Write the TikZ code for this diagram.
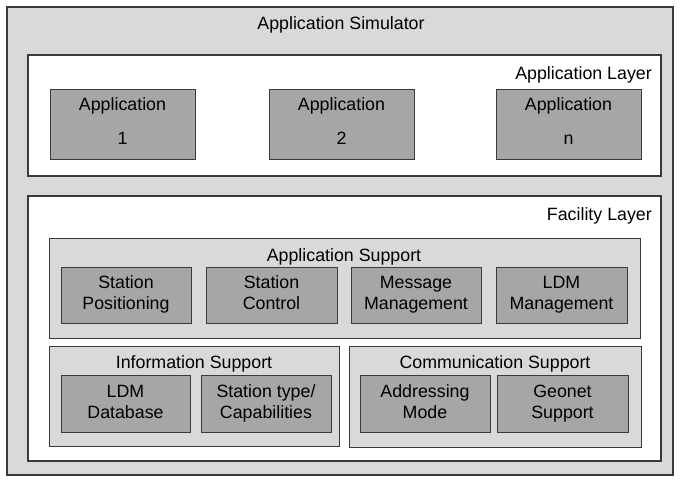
\documentclass[tikz,border=0pt]{standalone}
\usepackage{fontspec}
\setmainfont{Liberation Sans}
\definecolor{lightfill}{HTML}{D9D9D9}
\definecolor{itemfill}{HTML}{A6A6A6}
\definecolor{edge}{HTML}{3A3A3A}
\tikzset{
  frame/.style={draw=edge, line width=1.2pt, inner sep=0pt, outer sep=0pt},
  outerbox/.style={frame, fill=lightfill},
  layerbox/.style={frame, fill=white},
  supportbox/.style={frame, line width=1pt, fill=lightfill},
  itembox/.style={draw=edge, line width=1pt, fill=itemfill, align=center, inner sep=0pt,
    font=\fontsize{17.8}{21}\selectfont},
  lbl/.style={inner sep=0pt, font=\fontsize{17.8}{21}\selectfont},
}
\begin{document}
\begin{tikzpicture}[x=1pt,y=-1pt]
\useasboundingbox (0,0) rectangle (682,483);
% outer
\node[outerbox, minimum width=666pt, minimum height=468pt] (sim) at (340,241) {};
\node[lbl, anchor=base] (simlbl) at (341,29.5) {Application Simulator};
% application layer
\node[layerbox, minimum width=633pt, minimum height=121pt] (applayer) at (344.5,115.5) {};
\node[lbl, anchor=base east] (applbl) at (652,79) {Application Layer};
\node[itembox, minimum width=145pt, minimum height=70pt] (app1) at (122.5,124) {Application\strut\\[13pt]1\rule[-7.7pt]{0pt}{7.7pt}};
\node[itembox, minimum width=145pt, minimum height=70pt] (app2) at (341.5,124) {Application\strut\\[13pt]2\rule[-7.7pt]{0pt}{7.7pt}};
\node[itembox, minimum width=145pt, minimum height=70pt] (appn) at (568.5,124) {Application\strut\\[13pt]n\rule[-7.7pt]{0pt}{7.7pt}};
% facility layer
\node[layerbox, minimum width=633pt, minimum height=265pt] (fac) at (344.5,328.5) {};
\node[lbl, anchor=base east] (faclbl) at (652,220) {Facility Layer};
% application support
\node[supportbox, minimum width=591pt, minimum height=100pt] (appsup) at (344.5,288) {};
\node[lbl, anchor=base] (appsuplbl) at (344,261) {Application Support};
\node[itembox, minimum width=130pt, minimum height=56pt] (sp) at (126,295) {Station\strut\\Positioning\strut};
\node[itembox, minimum width=131pt, minimum height=56pt] (sc) at (271.5,295) {Station\strut\\Control\strut};
\node[itembox, minimum width=130pt, minimum height=56pt] (mm) at (416,295) {Message\strut\\Management\strut};
\node[itembox, minimum width=131pt, minimum height=56pt] (ldmm) at (561.5,295) {LDM\strut\\Management\strut};
% information support
\node[supportbox, minimum width=290pt, minimum height=100pt] (infsup) at (194,396) {};
\node[lbl, anchor=base] (infsuplbl) at (194,368) {Information Support};
\node[itembox, minimum width=129pt, minimum height=57pt] (ldmdb) at (125.5,403.5) {LDM\strut\\Database\strut};
\node[itembox, minimum width=130pt, minimum height=57pt] (stc) at (266,403.5) {Station type/\strut\\Capabilities\strut};
% communication support
\node[supportbox, minimum width=292pt, minimum height=101pt] (comsup) at (495,396.5) {};
\node[lbl, anchor=base] (comsuplbl) at (495,368) {Communication Support};
\node[itembox, minimum width=130pt, minimum height=57pt] (am) at (425,403.5) {Addressing\strut\\Mode\strut};
\node[itembox, minimum width=131pt, minimum height=57pt] (gs) at (562.5,403.5) {Geonet\strut\\Support\strut};
\end{tikzpicture}
\end{document}
